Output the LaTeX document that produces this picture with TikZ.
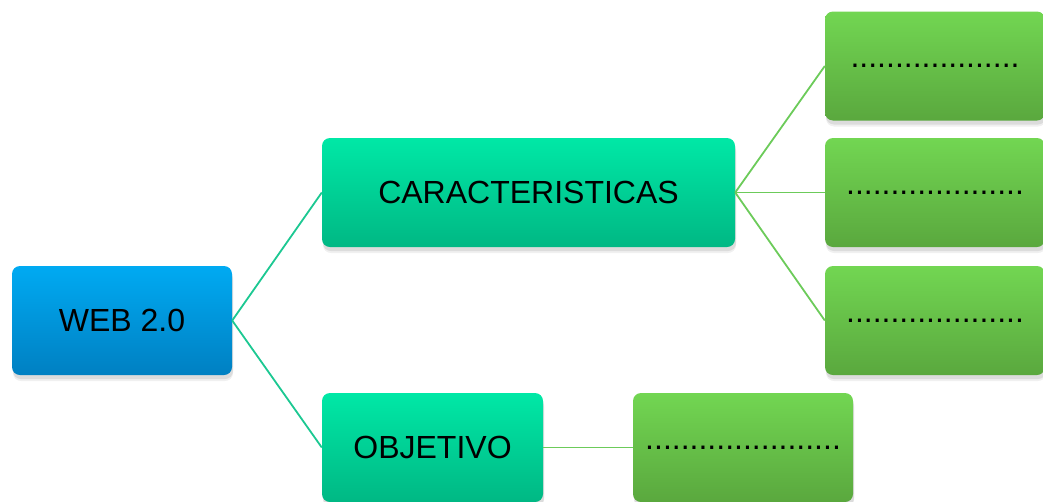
\documentclass[tikz,border=0pt]{standalone}
\usepackage{fontspec}
\setmainfont{Liberation Sans}
\usepackage{tikz}
\usetikzlibrary{positioning, shadows}

\definecolor{webtop}{HTML}{00AAF2}
\definecolor{webbot}{HTML}{0080C2}
\definecolor{tealtop}{HTML}{00E8A6}
\definecolor{tealbot}{HTML}{00B884}
\definecolor{greentop}{HTML}{72D652}
\definecolor{greenbot}{HTML}{5AA83E}
\definecolor{tealline}{HTML}{1CC892}
\definecolor{greenline}{HTML}{6CCB5A}

\tikzset{
  box/.style={rounded corners=8pt, minimum width=220pt, minimum height=109pt,
    font=\fontsize{32}{38}\selectfont, text=black,
    drop shadow={shadow xshift=1pt, shadow yshift=-6pt, opacity=0.12},
    drop shadow={shadow xshift=1pt, shadow yshift=-4pt, opacity=0.18}},
  webbox/.style={box, top color=webtop, bottom color=webbot},
  tealbox/.style={box, top color=tealtop, bottom color=tealbot},
  greenbox/.style={box, top color=greentop, bottom color=greenbot},
  tealedge/.style={draw=tealline, line width=1.8pt},
  greenedge/.style={draw=greenline, line width=1.8pt}
}

\begin{document}
\begin{tikzpicture}[x=1pt, y=-1pt, on grid]
    \useasboundingbox (0,0) rectangle (1043,501);
    \node[webbox] (web) at (122,320.5) {WEB 2.0};
    \node[tealbox, minimum width=413pt] (cara) [above right=128pt and 406.5pt of web] {CARACTERISTICAS};
    \node[tealbox, minimum width=221pt] (obj) [below right=127pt and 310.5pt of web] {OBJETIVO};
    \node[greenbox] (carA) [above right=126.5pt and 406.5pt of cara] {...................};
    \node[greenbox] (carB) [right=406.5pt of cara] {....................};
    \node[greenbox] (carC) [below right=128pt and 406.5pt of cara] {....................};
    \node[greenbox] (objA) [right=310.5pt of obj] {......................};
    \path
     (web.east) edge [tealedge] (cara.west)
                edge [tealedge] (obj.west)
     (cara.east) edge [greenedge] (carA.west)
                 edge [greenedge] (carB.west)
                 edge [greenedge] (carC.west)
     (obj.east) edge [greenedge] (objA.west)
     ;
\end{tikzpicture}
\end{document}
